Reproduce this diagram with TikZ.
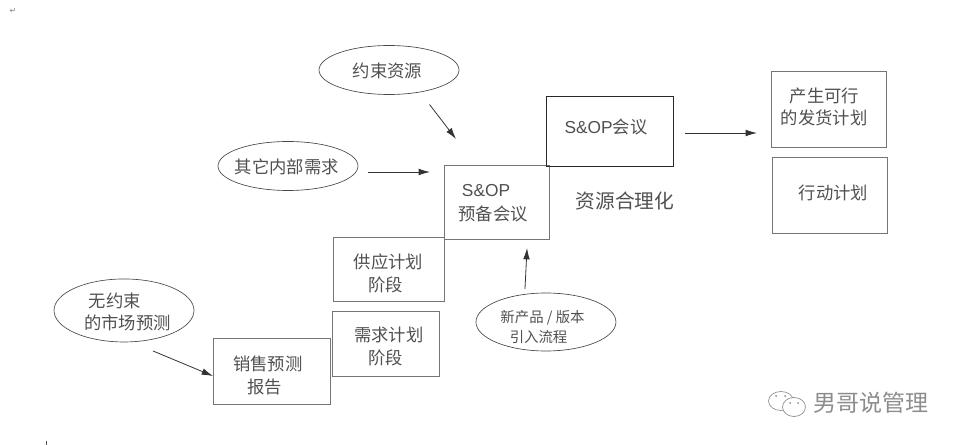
\documentclass[tikz,border=0pt]{standalone}
\usepackage{fontspec}
\usepackage{xcolor}
\setmainfont{Liberation Sans}
\newfontfamily\cjk{Noto Sans CJK SC}
\newfontfamily\dejavu{DejaVu Sans}
\usetikzlibrary{arrows.meta,positioning,shapes.geometric}
\definecolor{ink}{HTML}{505050}
\definecolor{edge}{HTML}{757575}
\begin{document}
\begin{tikzpicture}[
  x=0.75pt, y=-0.75pt,
  txt/.style={align=left, inner sep=0pt, outer sep=0pt, text=ink,
              font=\cjk\fontsize{13}{17}\selectfont},
  small/.style={txt, font=\cjk\fontsize{10.8}{15}\selectfont},
  box/.style={draw=edge, line width=0.7pt, inner sep=0pt, outer sep=0pt},
  oval/.style={ellipse, draw=ink!90!black, line width=0.5pt, inner sep=0pt, outer sep=0pt, minimum width=105pt},
  arr/.style={-{Latex[length=8.5pt,width=5pt]}, draw=black!80, line width=0.6pt},
]
  \useasboundingbox (0,0) rectangle (960,445);
  % staircase of boxes
  \node[box, anchor=north west, minimum width=87.75pt, minimum height=49.5pt,
        label={[txt,xshift=-2.8pt,yshift=-3.6pt]center:{销售预测\\\hspace*{10.7pt}报告}}] (report) at (213,338) {};
  \node[box, above right=-28.5pt and 1.5pt of report.north east, minimum width=80.25pt, minimum height=48.75pt,
        label={[txt,xshift=2.6pt,yshift=-2.25pt]center:{需求计划\\\hspace*{10.7pt}阶段}}] (demand) {};
  \node[box, above right=7.5pt and 0.75pt of demand.north west, minimum width=83.25pt, minimum height=48pt,
        label={[txt,yshift=-3.5pt]center:{供应计划\\\hspace*{10.7pt}阶段}}] (supply) {};
  \node[box, above right=-1.5pt and 0pt of supply.north east, minimum width=78.75pt, minimum height=55.5pt,
        label={[txt,xshift=-2.4pt,yshift=-0.75pt,font=\cjk\fontsize{13}{18}\selectfont]center:{\hspace*{2.5pt}{\rmfamily S\&OP}\\预备会议}}] (prep) {};
  \node[box, draw=ink!50!black, line width=0.6pt, above right=-0.75pt and -2.25pt of prep.north east, minimum width=95.25pt, minimum height=52.5pt,
        label={[txt,xshift=-2.6pt,yshift=3.2pt]center:{{\rmfamily S\&OP}会议}}] (meeting) {};
  % results on the right
  \node[box, right=73.5pt of meeting, yshift=16.5pt, minimum width=86.25pt, minimum height=57pt,
        label={[txt,xshift=-3.2pt,yshift=1.5pt]center:{\hspace*{6.75pt}产生可行\\的发货计划}}] (plan) {};
  \node[box, below=7.5pt of plan, xshift=0.75pt, minimum width=86.25pt, minimum height=57pt,
        label={[txt,xshift=3pt,yshift=1.3pt]center:{行动计划}}] (action) {};
  % inputs
  \node[oval, left=64.5pt of prep, yshift=27pt, minimum height=36.75pt,
        label={[txt,xshift=-0.9pt,yshift=-0.5pt]center:{其它内部需求}}] (other) {};
  \node[oval, above=35.25pt of other, xshift=75.75pt, minimum height=36.75pt,
        label={[txt,xshift=-1.1pt,yshift=-0.4pt]center:{约束资源}}] (limit) {};
  \node[oval, left=14.25pt of report, yshift=45.4pt, minimum height=47.25pt,
        label={[txt,xshift=2.6pt,yshift=-1pt]center:{\hspace*{3.5pt}无约束\\的市场预测}}] (market) {};
  \node[oval, below=40.5pt of prep, xshift=37.1pt, minimum height=43.5pt,
        label={[small,xshift=-2.6pt,yshift=-4pt]center:{新产品 / 版本\\\hspace*{7pt}引入流程}}] (newprod) {};
  \node[txt, right=20pt of prep, yshift=0.75pt, font=\cjk\fontsize{14.8}{18}\selectfont] (ratio) {资源合理化};
  % connectors
  \draw[arr] ([shift={(30.4pt,-7.5pt)}]limit.south) -- ([shift={(9pt,19.5pt)}]prep.north west);
  \draw[arr] ([shift={(7.5pt,-4.5pt)}]other.east) -- ([shift={(-10.5pt,22.5pt)}]prep.west);
  \draw[arr] ([shift={(9pt,-1.5pt)}]meeting.east) -- ([shift={(-10.5pt,-18pt)}]plan.west);
  \draw[arr] ([shift={(21.75pt,-6.75pt)}]market.south) -- ([shift={(0pt,-3.75pt)}]report.west);
  \draw[arr] ([shift={(-15.75pt,3pt)}]newprod.north) -- ([shift={(22.9pt,-6.75pt)}]prep.south);
  % stray marks and watermark
  \node[txt, text=gray, font=\dejavu\fontsize{6}{6}\selectfont] (ret) at (13,11) {↵};
  \coordinate (stray) at (46,441);
  \draw[ink, line width=0.5pt] (stray) -- ++(0,4);
  \node[txt, text=black!45, anchor=west, font=\cjk\fontsize{17.25}{20}\selectfont] (mark) at (813,403) {男哥说管理};
  \draw[black!45, line width=0.5pt] (781,401) ellipse (12.5 and 9.5);
  \draw[black!45, fill=white, line width=0.5pt] (794,407) ellipse (11.5 and 9.5);
  \fill[black!45] (776,396) circle (1) (785,396) circle (1) (790,403) circle (1) (798,403) circle (1);
\end{tikzpicture}
\end{document}
